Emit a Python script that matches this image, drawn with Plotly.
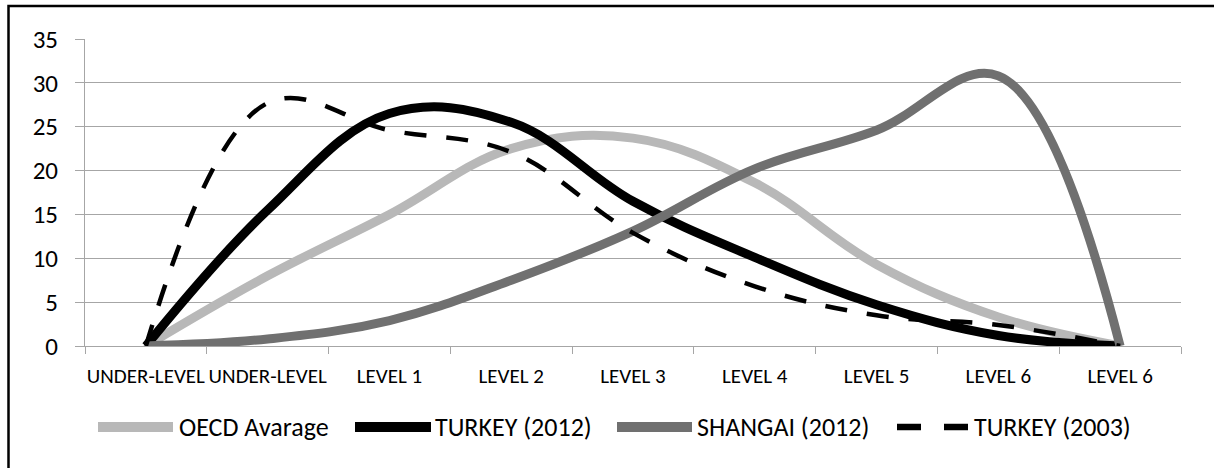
import plotly.graph_objects as go

# Category labels along the x axis (repeated labels are intentional)
categories = ["UNDER-LEVEL", "UNDER-LEVEL", "LEVEL 1", "LEVEL 2", "LEVEL 3",
              "LEVEL 4", "LEVEL 5", "LEVEL 6", "LEVEL 6"]

# Share of students (%) at each proficiency level
oecd_average = [0, 8.0, 15.0, 22.5, 23.7, 18.6, 9.3, 3.3, 0]
turkey_2012 = [0, 15.5, 26.5, 25.5, 16.5, 10.1, 4.7, 1.2, 0]
shangai_2012 = [0, 0.8, 2.9, 7.5, 13.1, 20.2, 24.6, 30.8, 0]
turkey_2003 = [0, 27.7, 24.6, 22.1, 12.9, 6.8, 3.5, 2.4, 0]

series_names = ["OECD Avarage", "TURKEY (2012)", "SHANGAI (2012)", "TURKEY (2003)"]

y_ticks = [0, 5, 10, 15, 20, 25, 30, 35]

FONT = "Carlito, Calibri, Lato, sans-serif"
W, H = 1214, 468
ML, MR, MT, MB = 85, 33, 39, 122
PW, PH = W - ML - MR, H - MT - MB

styles = [
    dict(color="#b8b8b8", width=9, dash="solid"),
    dict(color="#000000", width=9, dash="solid"),
    dict(color="#707070", width=9, dash="solid"),
    dict(color="#000000", width=4.5, dash="22px,20px"),
]

x_idx = list(range(len(categories)))
fig = go.Figure()
for name, vals, st in zip(series_names,
                          [oecd_average, turkey_2012, shangai_2012, turkey_2003],
                          styles):
    fig.add_trace(go.Scatter(
        x=x_idx, y=vals, name=name, mode="lines",
        line=dict(shape="spline", smoothing=1.1, **st),
        showlegend=False, hoverinfo="skip",
    ))


def px_x(p):
    return (p - ML) / PW


def px_y(p):
    return (MT + PH - p) / PH


# Legend drawn as line samples with text
legend_items = [
    (98, 173, 177),
    (355, 431, 433),
    (617, 692, 695),
    (897, 968, 972),
]
legend_y = 427
shapes = []
annotations = []
for (x0, x1, tx), name, st in zip(legend_items, series_names, styles):
    if st["dash"] == "solid":
        shapes.append(dict(type="line", xref="paper", yref="paper",
                           x0=px_x(x0), x1=px_x(x1), y0=px_y(legend_y), y1=px_y(legend_y),
                           line=dict(color=st["color"], width=st["width"] + 1)))
    else:
        shapes.append(dict(type="line", xref="paper", yref="paper",
                           x0=px_x(x0), x1=px_x(x0 + 24), y0=px_y(legend_y), y1=px_y(legend_y),
                           line=dict(color=st["color"], width=st["width"] + 2)))
        shapes.append(dict(type="line", xref="paper", yref="paper",
                           x0=px_x(x1 - 24), x1=px_x(x1), y0=px_y(legend_y), y1=px_y(legend_y),
                           line=dict(color=st["color"], width=st["width"] + 2)))
    annotations.append(dict(text=name, xref="paper", yref="paper",
                            x=px_x(tx), y=px_y(legend_y), xanchor="left", yanchor="middle",
                            showarrow=False, font=dict(family=FONT, size=26, color="#000000")))

# Outer chart frame
shapes.append(dict(type="rect", xref="paper", yref="paper",
                   x0=px_x(8.5), x1=px_x(1240), y0=px_y(500), y1=px_y(6),
                   line=dict(color="#000000", width=2.5), layer="below"))

fig.update_layout(
    width=W, height=H,
    margin=dict(l=ML, r=MR, t=MT, b=MB),
    paper_bgcolor="white", plot_bgcolor="white",
    font=dict(family=FONT, color="#000000"),
    shapes=shapes, annotations=annotations,
    xaxis=dict(
        range=[-0.5, len(categories) - 0.5],
        tickvals=x_idx, ticktext=categories,
        ticks="", showgrid=False, zeroline=False,
        showline=True, linecolor="#a6a6a6", linewidth=1,
        tickfont=dict(family=FONT, size=21, color="#000000"),
        tickangle=0,
        ticklabelstandoff=11,
        minor=dict(tick0=-0.5, dtick=1, ticks="outside", ticklen=7,
                   tickcolor="#a6a6a6", tickwidth=1, showgrid=False),
        fixedrange=True,
    ),
    yaxis=dict(
        range=[0, 35], tickvals=y_ticks,
        showgrid=True, gridcolor="#a6a6a6", gridwidth=1,
        zeroline=False, showline=True, linecolor="#a6a6a6", linewidth=1,
        ticks="outside", ticklen=9, tickcolor="#a6a6a6", tickwidth=1,
        tickfont=dict(family=FONT, size=25, color="#000000"),
        ticklabelstandoff=12,
        fixedrange=True,
    ),
)

fig.write_html("out.html")
